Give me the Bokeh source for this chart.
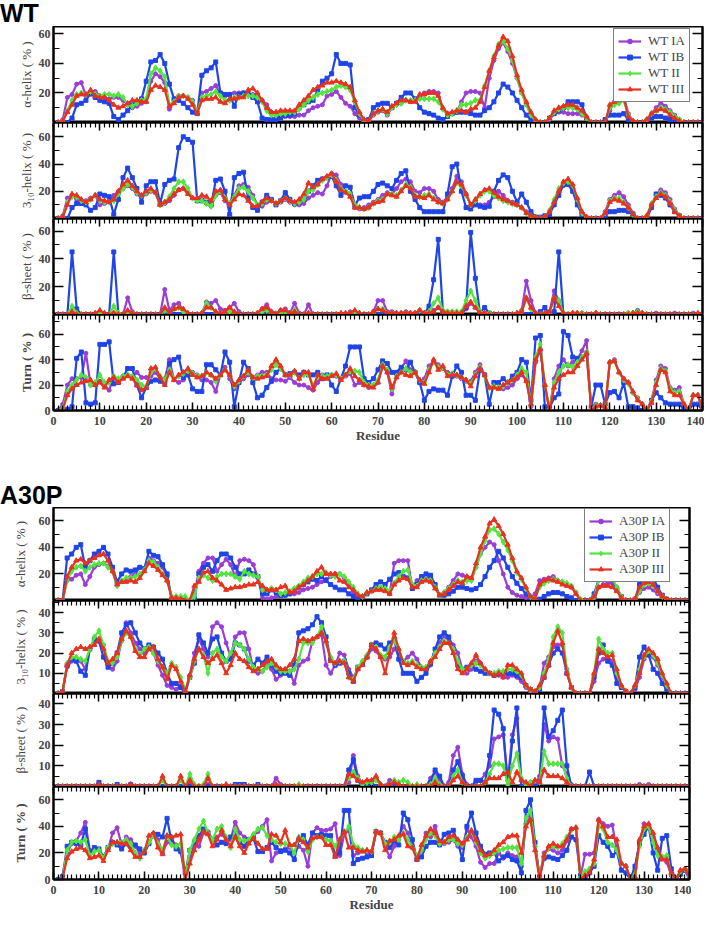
from bokeh.plotting import figure
from bokeh.layouts import column
from bokeh.models import (Div, Legend, LegendItem, LinearAxis, FixedTicker,
                          SingleIntervalTicker, Range1d, ColumnDataSource)
from bokeh.embed import file_html
from bokeh.resources import INLINE

residue = list(range(1, 141))

# ---------------- WT ----------------
wt_alpha_ia = [0,2,17,19,26,27,18,19,21,18, 17,16,17,17,15,12,10,11,13,14, 28,33,31,27,9,14,18,18,17,15,
               7,20,21,23,25,19,18,19,20,20, 20,19,19,17,15,12,7,5,4,4, 4,4,5,5,8,10,11,12,18,19,
               21,17,13,11,6,3,0,1,5,7, 8,5,10,12,13,15,14,15,17,20, 21,21,20,9,6,6,7,14,20,21,
               21,20,10,30,42,50,54,48,40,30, 20,12,5,1,0,0,2,6,7,7, 6,6,6,5,3,0,0,0,0,8,
               14,16,18,6,1,0,0,2,6,10, 13,11,8,5,2,0,0,0,0,0]
wt_alpha_ib = [0,0,0,3,12,13,15,20,17,15, 14,13,4,2,5,8,12,14,16,28, 41,42,46,40,26,16,15,13,10,7,
               6,32,35,37,41,20,19,19,11,19, 20,19,17,14,3,2,2,2,3,5, 5,6,10,12,14,15,22,28,30,33,
               46,40,40,39,10,5,1,2,10,12, 13,13,10,13,17,20,20,16,10,7, 6,5,3,2,4,6,7,7,7,6,
               5,5,8,10,14,20,26,24,20,15, 10,5,2,1,0,0,3,6,8,10, 14,14,14,12,3,0,0,0,2,5,
               5,5,6,2,0,0,0,1,3,4, 4,3,2,1,0,0,0,0,0,0]
wt_alpha_ii = [0,1,8,15,19,20,19,21,19,18, 19,19,18,19,17,12,11,13,15,16, 33,37,35,31,12,14,18,18,17,14,
               7,17,18,19,21,18,15,15,17,17, 18,18,18,17,14,8,5,5,6,6, 7,7,9,12,15,17,19,20,21,22,
               24,25,24,22,14,6,1,1,6,8, 9,6,10,12,13,15,15,15,16,16, 16,16,14,9,5,6,8,12,12,13,
               15,15,25,35,45,53,55,50,42,30, 20,12,5,1,0,0,3,7,9,10, 10,10,9,6,3,0,0,0,0,10,
               12,13,15,5,1,0,0,2,6,8, 10,9,7,4,2,0,0,0,0,0]
wt_alpha_iii = [0,1,7,12,18,19,19,22,18,17, 17,15,12,10,11,13,15,15,14,14, 22,25,24,22,11,13,17,18,16,12,
                6,15,16,16,17,14,13,16,16,17, 17,22,23,20,15,10,7,7,8,8, 8,8,12,15,18,22,24,25,27,27,
                28,27,26,24,15,7,2,1,6,8, 9,7,11,13,15,15,14,14,19,19, 20,20,18,10,6,7,8,8,7,9,
                10,14,24,35,44,52,58,55,45,32, 22,14,7,2,0,0,3,8,10,11, 12,12,10,8,4,0,0,0,0,12,
                14,15,17,4,1,0,0,2,6,8, 9,8,5,3,1,0,0,0,0,0]

wt_310_ia = [0,2,15,17,14,13,13,15,17,10, 11,13,17,20,22,24,22,18,17,18, 20,19,10,11,13,17,21,22,19,15,
             14,14,11,9,17,19,13,11,17,24, 25,23,17,10,9,12,13,11,12,14, 12,10,10,11,15,17,19,18,24,33,
             32,25,20,18,8,7,8,10,12,14, 17,19,18,22,27,29,27,20,19,22, 22,20,14,12,16,22,31,27,18,10,
             12,10,10,12,16,20,17,13,12,10, 8,5,2,1,0,1,5,12,20,24, 26,22,12,4,1,0,0,0,5,14,
             17,19,16,10,4,0,0,2,10,17, 21,19,14,7,2,0,0,0,0,0]
wt_310_ib = [0,0,0,8,11,11,10,6,8,18, 17,16,3,14,30,37,30,22,12,24, 27,27,11,25,28,29,52,60,58,56,
             13,13,12,10,28,29,20,3,30,33, 34,15,8,6,12,17,14,10,13,19, 14,11,12,14,20,24,28,29,30,31,
             24,17,24,23,10,15,16,16,20,25, 26,24,22,28,33,35,20,14,8,5, 5,5,5,5,18,38,40,20,8,7,
             10,9,8,9,20,28,32,30,20,12, 18,12,5,1,1,2,3,10,17,25, 25,20,10,3,0,0,0,0,2,5,
             5,6,6,5,3,0,0,0,8,18, 17,15,10,5,2,0,0,0,0,0]
wt_310_ii = [0,1,12,16,16,13,12,14,17,13, 12,12,13,18,22,25,23,19,17,19, 21,19,10,12,16,22,27,27,22,15,
             13,13,11,9,17,20,15,11,16,22, 23,20,15,10,11,14,13,11,13,15, 13,11,12,14,20,21,25,28,30,32,
             28,22,20,18,10,8,7,8,11,13, 14,18,18,17,21,25,23,17,16,17, 18,15,12,11,14,20,26,24,17,10,
             13,17,20,20,17,15,13,12,11,10, 8,4,2,1,0,1,6,14,22,26, 27,24,14,4,1,0,0,0,4,13,
             15,15,12,8,3,0,0,2,11,16, 19,17,12,6,2,0,0,0,0,0]
wt_310_iii = [0,1,10,18,17,14,12,14,17,14, 13,12,14,20,25,28,24,20,17,20, 22,19,10,12,14,18,21,22,18,15,
              15,17,16,13,20,21,14,10,14,18, 17,13,9,9,12,15,13,11,13,15, 13,12,14,18,26,23,25,29,31,33,
              27,21,19,16,8,8,7,8,11,12, 13,18,17,16,20,24,22,16,16,15, 17,14,12,11,14,20,27,25,18,10,
              14,18,21,22,19,16,14,13,11,10, 8,4,2,1,0,1,5,12,20,27, 29,25,15,5,1,0,0,0,4,12,
              14,13,11,8,3,0,0,2,10,15, 18,16,11,5,2,0,0,0,0,0]

wt_beta_ia = [0,0,0,1,0,0,0,0,0,0, 0,0,1,0,0,12,2,0,0,0, 0,0,0,18,3,7,8,3,0,0,
              0,1,9,8,10,4,3,5,8,2, 0,0,0,1,4,7,2,1,3,4, 1,8,1,0,7,0,0,0,0,0,
              0,0,0,2,2,0,0,0,2,10, 10,2,2,1,1,2,1,1,3,1, 1,3,5,2,2,1,1,1,4,8,
              5,2,1,1,0,0,0,0,0,0, 3,24,10,1,0,0,2,17,10,1, 0,1,1,1,0,0,1,0,0,0,
              0,0,0,1,1,3,1,0,0,1, 0,0,0,1,0,0,0,1,0,0]
wt_beta_ib = [0,0,0,45,4,0,0,0,0,0, 0,0,45,0,0,0,0,0,0,0, 0,0,0,0,0,0,0,0,0,0,
              0,0,0,0,0,0,0,0,0,0, 0,0,0,0,0,0,0,0,0,0, 0,0,0,0,0,0,0,0,0,0,
              0,0,0,0,0,0,0,0,0,0, 0,0,0,0,0,0,0,0,0,0, 6,25,54,2,1,1,0,0,5,59,
              26,1,5,1,0,0,0,0,0,0, 0,0,0,0,2,5,0,2,45,0, 0,0,0,0,0,0,0,0,0,0,
              0,0,0,0,0,0,0,0,0,0, 0,0,0,0,0,0,0,0,0,0]
wt_beta_ii = [0,0,0,6,1,0,0,0,0,1, 0,0,6,1,0,2,1,0,0,0, 0,0,0,3,1,4,5,2,0,0,
              0,1,8,5,2,1,1,2,1,0, 0,0,0,1,2,3,1,0,1,2, 1,3,0,0,1,0,0,0,0,0,
              0,0,0,1,2,1,0,0,1,4, 4,1,1,1,1,1,1,1,3,1, 2,8,12,3,2,2,2,2,10,17,
              10,2,1,1,0,0,0,0,0,1, 2,12,4,1,0,1,1,12,10,1, 0,1,1,1,0,0,1,0,0,0,
              0,0,0,1,1,2,1,0,0,0, 0,0,0,0,0,0,0,0,0,0]
wt_beta_iii = [0,0,0,2,0,0,0,0,1,3, 1,0,1,0,0,3,1,0,0,0, 0,0,0,5,1,4,5,4,1,0,
               0,1,5,5,2,1,2,5,2,0, 0,0,0,1,4,5,2,0,3,3, 1,2,0,0,1,0,0,0,0,0,
               0,1,1,1,3,1,0,0,2,4, 3,1,1,1,1,1,1,1,3,1, 1,2,5,2,1,1,1,1,6,9,
               5,1,1,0,0,0,0,0,0,1, 2,12,5,1,0,1,2,12,6,1, 0,1,1,0,0,0,1,0,0,0,
               0,0,0,0,1,1,1,0,0,0, 0,0,0,0,0,0,0,0,1,0]

wt_turn_ia = [0,5,20,25,25,26,45,20,20,23, 20,16,26,24,27,28,27,30,26,26, 27,30,25,25,40,24,22,24,30,30,
              28,24,24,22,15,28,34,25,17,22, 25,28,26,28,30,30,25,24,24,23, 26,22,20,20,18,16,22,28,27,28,
              27,25,27,29,20,22,20,18,20,22, 35,30,13,28,33,39,32,30,22,25, 35,39,36,33,30,29,27,25,23,23,
              30,36,28,18,19,18,17,18,20,25, 28,24,3,38,48,20,0,25,35,40, 35,38,40,47,55,0,5,4,2,38,
              40,30,25,22,14,10,5,0,8,24, 35,33,18,16,18,5,0,12,12,0]
wt_turn_ib = [0,0,1,3,41,46,6,5,6,52, 52,54,21,22,26,33,33,20,10,18, 23,24,23,22,37,40,42,26,28,17,
              15,15,36,36,32,28,46,38,3,22, 38,33,22,10,12,18,23,30,33,28, 29,30,28,30,28,28,30,25,28,20,
              15,25,35,50,50,50,25,22,25,32, 39,37,30,30,34,32,38,30,22,8, 15,17,16,16,12,27,35,30,12,12,
              8,32,28,5,22,22,25,22,27,30, 40,38,8,57,59,3,2,10,13,62, 59,42,41,42,45,3,20,20,5,14,
              15,10,22,3,3,2,0,0,8,14, 10,6,5,5,5,1,0,5,5,0]
wt_turn_ii = [0,2,15,20,24,28,26,20,22,28, 22,22,27,25,27,28,27,24,20,19, 30,33,27,24,32,25,27,29,31,29,
              27,27,30,28,23,28,32,28,19,23, 27,30,26,27,27,28,32,36,33,28, 28,30,25,28,28,20,27,27,27,28,
              28,25,28,31,31,30,22,20,20,24, 36,32,17,27,30,33,30,30,24,22, 32,38,34,34,28,29,28,26,24,21,
              28,34,27,18,19,18,19,22,24,28, 33,30,5,42,52,20,1,22,30,35, 36,34,38,42,46,1,4,4,2,38,
              39,30,24,21,14,9,5,0,7,22, 33,31,17,14,15,5,0,12,12,1]
wt_turn_iii = [0,1,12,17,20,22,23,24,20,22, 18,24,26,22,25,27,25,20,16,18, 33,34,26,20,30,24,28,30,33,28,
               26,27,30,28,25,28,32,28,20,24, 27,32,26,25,26,27,35,40,35,28, 28,31,25,30,30,17,28,25,25,27,
               29,24,28,33,27,24,20,19,18,22, 35,30,18,26,30,28,27,30,24,21, 30,40,32,35,27,28,28,26,24,19,
               27,33,28,18,18,17,20,22,24,26, 30,23,5,40,48,20,0,18,25,28, 30,30,35,40,45,0,3,4,2,38,
               39,30,25,22,15,8,5,0,6,20, 32,30,15,12,12,5,0,12,12,2]

# ---------------- A30P ----------------
a30p_alpha_ia = [0,0,15,16,19,20,12,18,25,27, 28,26,22,12,14,16,18,20,25,24, 32,30,28,25,18,2,1,1,0,0,
                 5,22,28,32,32,22,27,31,27,18, 30,31,30,27,17,2,1,2,3,3, 4,5,5,6,8,9,10,12,14,16,
                 18,20,20,17,12,6,4,3,5,7, 9,9,8,5,28,30,30,30,9,15, 17,18,17,10,4,6,10,15,20,19,
                 18,16,25,35,40,44,42,30,20,10, 6,4,3,2,2,5,15,16,17,18, 15,14,12,10,6,0,0,0,0,10,
                 12,13,13,10,3,0,0,1,6,9, 10,8,5,3,1,0,0,0,0,0]
a30p_alpha_ib = [0,0,32,35,40,42,25,30,35,37, 40,35,25,14,20,23,22,23,25,24, 37,34,33,27,20,1,1,1,0,0,
                 2,20,25,27,22,30,35,35,32,25, 20,20,23,20,18,5,5,8,6,4, 4,5,8,10,12,14,16,15,18,15,
                 12,10,8,8,5,3,2,3,5,8, 12,14,12,16,20,21,18,17,9,12, 18,20,19,12,4,4,5,7,10,10,
                 9,8,9,12,18,25,30,37,32,25, 18,13,9,5,2,0,1,3,5,6, 6,5,3,2,0,0,0,0,5,16,
                 17,17,16,8,3,0,0,1,12,18, 18,17,10,4,1,0,0,0,0,0]
a30p_alpha_ii = [0,0,15,22,25,26,22,25,27,28, 28,25,22,11,15,17,17,18,20,23, 30,29,25,20,15,3,3,3,3,0,
                 3,17,19,17,15,18,20,20,20,18, 16,22,20,19,18,8,8,9,8,5, 6,7,9,11,14,17,18,20,20,21,
                 19,18,20,18,14,10,5,3,6,7, 9,10,9,7,13,18,22,23,12,11, 15,16,15,10,4,6,9,12,15,14,
                 15,15,25,35,45,53,54,50,44,38, 30,21,16,9,3,1,10,13,15,16, 15,14,13,11,6,1,0,0,3,15,
                 17,17,17,10,3,0,0,1,7,12, 13,11,7,3,1,0,0,0,0,0]
a30p_alpha_iii = [0,0,18,25,30,31,28,30,32,34, 35,30,22,12,14,14,15,14,17,22, 28,26,23,19,15,2,2,1,0,0,
                  11,14,21,22,17,15,12,8,9,10, 10,11,12,12,14,11,8,8,8,10, 11,6,7,10,12,15,18,22,25,20,
                  20,20,15,14,10,8,4,3,6,7, 8,8,7,5,12,15,17,16,10,10, 14,15,14,9,4,5,8,11,14,13,
                  18,17,28,40,48,58,61,56,50,42, 32,22,17,10,3,1,12,15,16,15, 14,12,11,10,5,0,0,0,3,10,
                  11,11,10,7,2,0,0,1,10,13, 14,12,7,3,1,0,0,0,0,0]

a30p_310_ia = [0,1,13,16,17,16,12,22,25,26, 24,14,12,16,26,35,30,25,22,20, 22,20,14,9,4,3,2,4,1,9,
               20,27,22,18,33,35,33,25,18,28, 30,30,22,12,10,11,14,12,7,9, 12,11,5,14,16,17,26,28,29,14,
               10,14,20,19,12,8,12,15,18,22, 21,18,17,18,22,20,16,18,20,17, 13,12,14,20,25,28,27,24,20,12,
               10,12,16,15,12,10,9,9,8,8, 9,8,6,3,1,1,3,15,18,23, 24,24,12,3,0,0,0,0,6,15,
               17,18,16,8,3,1,0,2,8,17, 20,18,14,8,3,0,0,0,0,0]
a30p_310_ib = [0,1,14,17,16,11,9,22,27,26, 18,13,15,20,30,34,35,30,25,22, 24,23,20,17,10,5,5,3,0,8,
               15,29,25,20,27,28,20,16,17,25, 24,22,16,14,17,15,18,14,11,10, 10,9,14,30,31,32,34,38,35,28,
               17,14,15,16,10,6,13,15,18,24, 25,24,22,25,27,17,10,10,10,6, 8,10,15,22,28,30,28,22,14,12,
               13,14,12,11,10,10,9,10,10,10, 10,9,8,4,2,1,2,8,14,20, 22,20,10,3,0,0,0,0,8,20,
               24,16,14,5,3,1,0,3,18,23, 19,12,10,5,2,0,0,0,0,0]
a30p_310_ii = [0,1,15,18,18,17,16,22,28,31, 24,16,15,18,26,30,28,22,19,22, 23,20,16,13,10,15,13,8,2,8,
               16,22,19,10,20,22,18,16,20,25, 24,22,17,13,12,11,13,15,13,11, 11,11,12,17,25,25,25,28,33,25,
               18,15,16,16,8,7,13,16,19,24, 23,19,18,23,26,22,16,15,16,14, 13,13,16,20,23,26,25,22,16,12,
               12,14,15,14,12,10,10,11,11,12, 12,11,9,4,2,1,3,10,17,28, 33,30,12,3,0,0,0,0,10,27,
               22,20,20,10,4,1,0,4,12,18, 21,19,15,9,4,0,0,0,0,0]
a30p_310_iii = [0,1,14,20,22,23,22,23,24,27, 22,15,17,20,27,31,28,21,18,18, 22,23,17,13,7,14,12,6,1,9,
                17,22,18,15,17,19,15,10,14,20, 17,16,13,11,12,14,16,17,14,12, 12,14,17,26,27,26,27,28,30,26,
                16,15,16,15,8,6,12,14,18,24, 22,18,10,20,30,22,15,14,15,13, 12,12,16,18,22,25,25,20,12,10,
                12,15,19,15,12,10,9,10,8,14, 14,12,10,4,2,1,4,8,14,25, 31,25,10,3,0,0,0,0,10,22,
                20,18,19,12,4,1,0,4,10,19, 22,20,17,10,5,0,0,0,0,0]

a30p_beta_ia = [0,0,0,0,0,0,0,0,0,0, 0,0,0,0,0,0,1,0,0,0, 0,0,0,0,0,0,0,0,0,2,
                0,0,0,1,0,0,0,0,0,0, 0,0,0,0,0,0,0,0,4,1, 0,0,0,0,0,0,0,0,0,0,
                0,0,0,0,2,15,5,1,0,2, 4,1,0,3,1,1,0,0,0,0, 0,0,4,7,3,0,2,15,19,6,
                1,0,2,3,6,10,23,24,25,3, 25,33,3,1,2,1,5,30,22,24, 23,10,6,1,0,0,0,0,0,0,
                0,0,0,0,0,0,0,0,1,0, 1,0,0,0,0,0,0,0,0,0]
a30p_beta_ib = [0,0,0,0,0,0,0,0,0,2, 0,0,0,1,0,0,1,0,0,0, 0,0,0,0,0,0,0,0,0,0,
                0,0,0,0,0,0,0,0,0,1, 1,1,0,0,1,0,0,0,0,0, 0,0,0,0,0,0,0,0,0,0,
                0,0,0,0,8,13,3,0,1,2, 0,0,0,0,0,0,0,0,0,0, 0,0,2,8,5,0,0,8,12,5,
                0,0,3,3,2,15,37,35,28,0, 22,38,0,0,0,0,2,38,24,27, 32,37,10,0,0,0,0,7,0,0,
                0,0,0,0,0,0,0,0,0,0, 0,0,0,0,0,0,0,0,0,0]
a30p_beta_ii = [0,0,0,0,0,0,0,0,0,0, 0,0,0,0,0,0,0,0,0,0, 0,0,0,3,0,0,0,3,0,6,
                1,0,1,6,0,0,0,0,0,0, 0,0,0,0,0,0,0,0,0,0, 0,0,0,1,0,0,0,0,0,0,
                0,0,0,0,4,7,4,1,2,2, 3,1,0,1,3,2,3,2,0,1, 0,0,1,4,1,0,0,5,8,2,
                0,0,0,0,2,6,11,11,10,1, 10,16,4,1,2,3,2,17,11,11, 11,11,4,0,0,0,0,0,0,0,
                0,0,0,0,0,0,0,0,0,0, 0,0,0,0,0,0,0,0,0,0]
a30p_beta_iii = [0,0,0,0,0,0,0,0,0,1, 0,0,0,0,0,0,1,0,0,0, 0,0,0,5,0,0,0,5,0,3,
                 0,0,0,4,0,0,0,1,0,0, 0,0,0,0,0,0,0,0,1,0, 0,0,0,0,0,0,0,0,0,0,
                 0,0,0,0,6,5,3,2,3,3, 5,1,0,1,2,1,0,0,0,0, 0,0,0,2,0,0,0,3,5,2,
                 0,0,0,0,2,4,4,4,6,7, 2,7,3,2,0,3,2,8,5,5, 5,4,2,0,0,0,0,0,0,0,
                 0,0,0,0,0,0,0,0,0,0, 0,0,0,0,0,0,0,0,0,0]

a30p_turn_ia = [0,3,20,27,29,35,43,22,23,22, 17,23,35,39,26,32,30,25,20,20, 27,34,30,20,28,30,26,22,0,15,
                26,25,35,36,30,32,34,30,30,43, 35,32,30,33,36,40,45,14,20,22, 23,24,20,25,22,10,35,39,37,37,
                38,42,18,34,37,18,20,22,20,20, 35,35,25,17,25,32,40,35,24,16, 22,35,32,40,28,27,28,30,25,24,
                38,32,25,13,9,12,12,20,16,20, 18,17,10,42,48,25,2,20,23,22, 20,22,29,38,39,2,19,19,20,45,
                42,40,41,22,12,10,1,8,28,42, 41,32,20,17,13,3,0,6,8,2]
a30p_turn_ib = [0,2,25,28,27,26,38,20,24,23, 17,24,28,26,23,27,25,26,23,20, 27,34,34,32,46,28,23,21,5,22,
                28,33,38,35,30,26,28,27,32,35, 28,25,30,31,21,21,24,28,24,21, 22,20,15,30,33,26,35,33,34,33,
                33,18,20,52,52,12,15,16,17,18, 36,35,28,24,29,26,50,45,30,15, 17,25,28,28,26,34,35,37,28,15,
                40,50,35,25,19,20,20,14,17,18, 15,14,5,52,60,28,2,16,17,16, 15,18,22,32,30,3,0,5,10,33,
                28,25,18,21,7,5,0,10,27,34, 40,20,7,31,33,8,0,4,7,0]
a30p_turn_ii = [0,1,22,28,29,28,30,18,21,22, 16,24,27,28,28,30,27,20,16,22, 28,33,27,22,33,26,25,27,2,22,
                30,38,44,35,30,38,40,32,24,38, 30,29,30,34,38,39,33,30,28,27, 27,26,20,32,30,21,30,32,32,30,
                29,25,30,35,40,26,24,22,22,21, 36,35,27,28,32,30,35,30,24,18, 22,30,35,33,27,28,30,30,27,26,
                32,36,28,20,16,18,20,22,23,24, 24,24,12,46,52,25,1,18,24,25, 24,27,32,37,39,2,6,8,12,40,
                38,28,26,22,12,10,0,4,25,38, 40,28,18,17,18,4,0,6,8,2]
a30p_turn_iii = [0,1,16,21,23,24,22,16,17,18, 14,22,28,28,27,27,22,17,17,21, 33,35,24,19,33,32,33,34,0,12,
                 22,30,36,34,25,30,37,30,25,32, 25,20,27,31,27,23,23,34,33,28, 37,26,26,31,28,24,31,32,32,26,
                 26,17,30,36,24,24,22,21,22,21, 36,35,22,29,30,33,34,25,24,15, 26,33,38,35,29,28,32,33,30,27,
                 30,37,30,22,18,19,22,26,28,32, 33,33,20,40,45,22,0,18,25,27, 25,25,30,38,39,0,3,5,15,45,
                 40,32,32,30,12,10,0,2,30,40, 42,35,24,15,15,5,0,7,8,2]

wt_labels = ["WT IA", "WT IB", "WT II", "WT III"]
a30p_labels = ["A30P IA", "A30P IB", "A30P II", "A30P III"]

COLORS = ["#9a3dd6", "#1f44e8", "#52e63c", "#e8321f"]
MARKERS = ["circle", "square", "diamond", "triangle"]
MSIZES = [4, 4, 6, 5]
SERIF = "Liberation Serif"


def tick_style():
    return dict(axis_line_color="black", axis_line_width=2,
                major_tick_line_color="black", major_tick_line_width=1.5,
                minor_tick_line_color="black", minor_tick_line_width=1.2)


def make_panel(series, labels, ylab, ymax, major, minor, width, frame_h,
               left_border, label_standoff, top_ticks, bottom_axis,
               legend_loc=None, top_border=0, label_bold=False):
    bottom = 40 if bottom_axis else 0
    p = figure(width=width, height=frame_h + bottom + top_border,
               x_range=Range1d(0, 140), y_range=Range1d(0, ymax),
               output_backend="svg", toolbar_location=None,
               x_axis_location=None, y_axis_location=None,
               min_border_left=left_border, min_border_right=2,
               min_border_top=top_border, min_border_bottom=bottom)
    p.grid.visible = False
    p.outline_line_color = "black"
    p.outline_line_width = 2
    p.background_fill_color = "white"
    p.border_fill_color = "white"

    yl = LinearAxis(ticker=FixedTicker(ticks=major, minor_ticks=minor),
                    axis_label=ylab,
                    major_tick_in=10, major_tick_out=0, minor_tick_in=6, minor_tick_out=0,
                    major_label_text_font=SERIF, major_label_text_font_style="bold",
                    major_label_text_font_size="12px", major_label_standoff=3,
                    axis_label_text_font=SERIF, axis_label_text_font_size="13px",
                    axis_label_text_font_style="bold" if label_bold else "normal",
                    axis_label_standoff=label_standoff, **tick_style())
    p.add_layout(yl, "left")

    yr = LinearAxis(ticker=FixedTicker(ticks=major, minor_ticks=minor),
                    major_tick_in=10, major_tick_out=0, minor_tick_in=5, minor_tick_out=0,
                    major_label_text_font_size="0px", major_label_text_color=None,
                    major_label_standoff=0, **tick_style())
    p.add_layout(yr, "right")

    if top_ticks:
        xt = LinearAxis(ticker=SingleIntervalTicker(interval=10, num_minor_ticks=10),
                        major_tick_in=8, major_tick_out=0, minor_tick_in=5, minor_tick_out=0,
                        major_label_text_font_size="0px", major_label_text_color=None,
                        major_label_standoff=0, **tick_style())
        p.add_layout(xt, "above")

    if bottom_axis:
        xb = LinearAxis(ticker=SingleIntervalTicker(interval=10, num_minor_ticks=10),
                        axis_label="Residue",
                        major_tick_in=8, major_tick_out=0, minor_tick_in=5, minor_tick_out=0,
                        major_label_text_font=SERIF, major_label_text_font_style="bold",
                        major_label_text_font_size="12px", major_label_standoff=6,
                        axis_label_text_font=SERIF, axis_label_text_font_size="13px",
                        axis_label_text_font_style="bold", axis_label_standoff=0,
                        **tick_style())
        p.add_layout(xb, "below")

    items = []
    for vals, lab, c, m, s in zip(series, labels, COLORS, MARKERS, MSIZES):
        src = ColumnDataSource(dict(x=residue, y=vals))
        lr = p.line("x", "y", source=src, line_color=c, line_width=2.2)
        sr = p.scatter("x", "y", source=src, marker=m, size=s,
                       fill_color=c, line_color=c)
        items.append(LegendItem(label=lab, renderers=[lr, sr]))
    if legend_loc is not None:
        leg = Legend(items=items, location=legend_loc,
                     label_text_font=SERIF, label_text_font_size="13px",
                     glyph_width=23, glyph_height=12, label_height=12,
                     spacing=0, padding=4, label_standoff=7, margin=0,
                     border_line_color="black", border_line_width=1.5,
                     background_fill_color="white", background_fill_alpha=1)
        p.add_layout(leg)
    return p


def title_div(text, height, pad):
    return Div(text='<div style="font-family: \'Liberation Sans\', Arial, sans-serif; '
                    'font-weight: bold; font-size: 25px; line-height: 26px; '
                    'padding-top: %dpx;">%s</div>' % (pad, text),
               width=200, height=height, margin=0)


# WT group
WT_W, WT_L, WT_H = 704, 44, 96
wt_panels = [
    make_panel([wt_alpha_ia, wt_alpha_ib, wt_alpha_ii, wt_alpha_iii], wt_labels,
               "\u03b1-helix ( % )", 65, [20, 40, 60], [10, 30, 50], WT_W, WT_H, WT_L, 2,
               False, False, legend_loc=(560, 20)),
    make_panel([wt_310_ia, wt_310_ib, wt_310_ii, wt_310_iii], wt_labels,
               "3\u2081\u2080-helix ( % )", 70.5, [20, 40, 60], [10, 30, 50], WT_W, WT_H, WT_L, 2,
               True, False),
    make_panel([wt_beta_ia, wt_beta_ib, wt_beta_ii, wt_beta_iii], wt_labels,
               "\u03b2-sheet ( % )", 69, [20, 40, 60], [10, 30, 50], WT_W, WT_H, WT_L, 2,
               True, False),
    make_panel([wt_turn_ia, wt_turn_ib, wt_turn_ii, wt_turn_iii], wt_labels,
               "Turn ( % )", 75.5, [0, 20, 40, 60], [10, 30, 50, 70], WT_W, WT_H, WT_L, 2,
               True, True, label_bold=True),
]

A_W, A_L, A_H = 691, 53, 93
a30p_panels = [
    make_panel([a30p_alpha_ia, a30p_alpha_ib, a30p_alpha_ii, a30p_alpha_iii], a30p_labels,
               "\u03b1-helix ( % )", 70, [20, 40, 60], [10, 30, 50], A_W, A_H, A_L, 8,
               False, False, legend_loc=(531, 18)),
    make_panel([a30p_310_ia, a30p_310_ib, a30p_310_ii, a30p_310_iii], a30p_labels,
               "3\u2081\u2080-helix ( % )", 46, [10, 20, 30, 40], [5, 15, 25, 35, 45], A_W, A_H, A_L, 8,
               True, False),
    make_panel([a30p_beta_ia, a30p_beta_ib, a30p_beta_ii, a30p_beta_iii], a30p_labels,
               "\u03b2-sheet ( % )", 45, [10, 20, 30, 40], [5, 15, 25, 35], A_W, A_H, A_L, 8,
               True, False),
    make_panel([a30p_turn_ia, a30p_turn_ib, a30p_turn_ii, a30p_turn_iii], a30p_labels,
               "Turn ( % )", 70, [0, 20, 40, 60], [10, 30, 50], A_W, A_H, A_L, 8,
               True, True, label_bold=True),
]

layout = column(title_div("WT", 26, 0), *wt_panels,
                title_div("A30P", 57, 32), *a30p_panels, spacing=0)

open("out.html", "w").write(file_html(layout, INLINE))
